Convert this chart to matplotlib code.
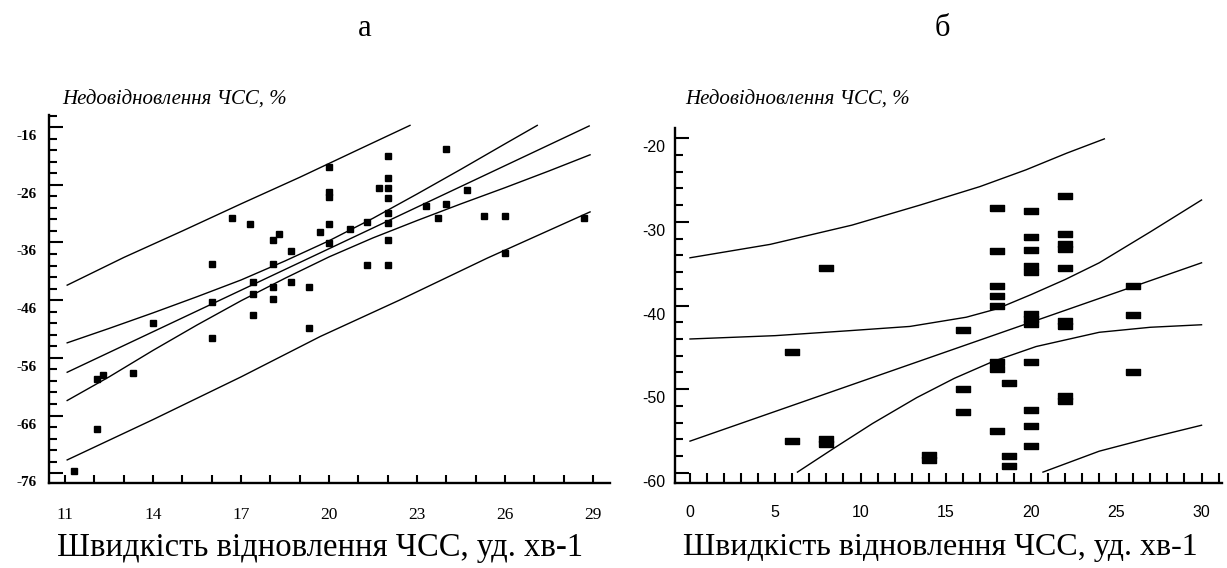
import matplotlib
matplotlib.use("Agg")
import matplotlib.pyplot as plt
import matplotlib.transforms as mtransforms
from matplotlib.ticker import MultipleLocator, FixedLocator

# ---------------- data: panel a ----------------
a_x = [16.7, 17.3, 18.1, 18.3, 18.7, 16.0, 18.1, 17.4, 18.1, 18.7, 19.3, 17.4, 16.0, 18.1, 17.4,
       19.7, 20.0, 22.0, 20.0, 20.0, 22.0, 21.7, 22.0, 22.0, 24.0, 24.7, 23.3, 24.0, 23.7, 22.0,
       22.0, 21.3, 20.7, 20.0, 20.0, 22.0, 21.3, 22.0, 25.3, 26.0, 26.0, 28.7, 14.0, 16.0, 19.3,
       12.1, 12.3, 13.3, 12.1, 11.3]
a_y = [-31.8, -32.8, -35.6, -34.5, -37.5, -39.7, -39.7, -42.9, -43.7, -42.9, -43.7, -44.9, -46.3, -45.8, -48.6,
       -34.2, -22.9, -21.0, -27.3, -28.1, -24.8, -26.6, -26.6, -28.3, -19.8, -26.9, -29.7, -29.3, -31.8, -30.9,
       -32.6, -32.5, -33.7, -32.8, -36.1, -35.6, -39.9, -39.9, -31.4, -31.4, -37.8, -31.8, -50.0, -52.6, -50.8,
       -59.7, -59.0, -58.6, -68.3, -75.6]

a_reg_x = [11.07, 28.87]
a_reg_y = [-58.5, -15.8]
a_uconf_x = [11.07, 12.5, 14.0, 15.5, 17.0, 18.5, 20.0, 21.5, 23.0, 24.5, 26.0, 27.1]
a_uconf_y = [-53.4, -50.9, -48.2, -45.4, -42.5, -39.2, -35.7, -31.8, -27.6, -23.3, -18.9, -15.7]
a_lconf_x = [11.07, 12.5, 14.0, 15.5, 17.0, 18.5, 20.0, 21.5, 23.0, 24.5, 26.0, 27.5, 28.9]
a_lconf_y = [-63.4, -59.3, -54.7, -50.3, -46.1, -42.2, -38.5, -35.2, -32.2, -29.3, -26.5, -23.6, -20.8]
a_upred_x = [11.07, 13.0, 15.0, 17.0, 19.0, 21.0, 22.76]
a_upred_y = [-43.4, -38.6, -34.0, -29.3, -24.7, -19.9, -15.7]
a_lpred_x = [11.07, 14.0, 17.0, 19.7, 22.4, 25.4, 28.9]
a_lpred_y = [-73.7, -66.7, -59.3, -52.3, -46.0, -38.7, -30.7]

a_xticks = [11, 14, 17, 20, 23, 26, 29]
a_yticks = [-76, -66, -56, -46, -36, -26, -16]

# ---------------- data: panel б ----------------
b_x = [6, 6, 8, 8, 8, 14, 14,
       16, 16, 16,
       18, 18, 18, 18, 18, 18, 18, 18,
       18.7, 18.7, 18.7,
       20, 20, 20, 20, 20, 20, 20, 20, 20, 20, 20, 20,
       22, 22, 22, 22, 22, 22, 22, 22, 22,
       26, 26, 26]
b_y = [-45.6, -56.2, -35.5, -56.0, -56.6, -57.9, -58.4,
       -42.9, -50.0, -52.7,
       -28.3, -33.5, -37.7, -38.9, -40.1, -46.7, -47.6, -55.0,
       -49.2, -58.0, -59.2,
       -28.7, -31.8, -33.4, -35.3, -36.0, -41.0, -42.2, -46.7, -52.5, -54.4, -56.8, -41.6,
       -26.9, -31.5, -32.6, -33.3, -35.5, -41.8, -42.4, -50.8, -51.4,
       -37.7, -41.1, -47.9]

b_reg_x = [0, 30]
b_reg_y = [-56.2, -34.9]
b_uconf_x = [0, 5, 9.4, 12.9, 16.2, 18.0, 20.0, 22.0, 24.0, 27.0, 30.0]
b_uconf_y = [-44.0, -43.6, -43.0, -42.5, -41.4, -40.4, -38.7, -36.9, -34.9, -31.2, -27.4]
b_lconf_x = [6.3, 8.4, 10.7, 13.3, 15.5, 17.75, 20.3, 24.0, 27.0, 30.0]
b_lconf_y = [-59.9, -57.1, -54.1, -51.0, -48.7, -46.7, -44.9, -43.2, -42.6, -42.3]
b_upred_x = [0, 4.7, 9.5, 13.5, 17.0, 19.7, 22.1, 24.3]
b_upred_y = [-34.3, -32.7, -30.4, -28.0, -25.8, -23.8, -21.8, -20.1]
b_lpred_x = [20.7, 24.0, 27.0, 30.0]
b_lpred_y = [-59.9, -57.4, -55.8, -54.3]

b_xticks = [0, 5, 10, 15, 20, 25, 30]
b_yticks = [-60, -50, -40, -30, -20]

ylabel_text = "Недовідновлення ЧСС, %"
xlabel_text = "Швидкість відновлення ЧСС, уд. хв-1"

# ---------------- figure ----------------
W, H = 1227, 568
fig = plt.figure(figsize=(W / 100, H / 100), dpi=100)
fig.patch.set_facecolor("white")

def px_axes(x0, y0, x1, y1):
    return fig.add_axes([x0 / W, 1 - y1 / H, (x1 - x0) / W, (y1 - y0) / H])

axa = px_axes(49, 115, 610, 483)
axb = px_axes(675, 128, 1222, 483)

def style(ax, lw=1.7):
    for s in ("top", "right"):
        ax.spines[s].set_visible(False)
    for s in ("left", "bottom"):
        ax.spines[s].set_linewidth(lw)
        ax.spines[s].set_color("black")
    ax.set_facecolor("white")

line_kw = dict(color="black", lw=1.0)

# ---- panel a ----
style(axa)
axa.set_xlim(10.45, 29.58)
axa.set_ylim(-77.7, -13.9)
axa.plot(a_upred_x, a_upred_y, **line_kw)
axa.plot(a_uconf_x, a_uconf_y, **line_kw)
axa.plot(a_reg_x, a_reg_y, **line_kw)
axa.plot(a_lconf_x, a_lconf_y, **line_kw)
axa.plot(a_lpred_x, a_lpred_y, **line_kw)
axa.plot(a_x, a_y, linestyle="none", marker="s", markersize=5, color="black")

axa.xaxis.set_major_locator(FixedLocator(a_xticks))
axa.xaxis.set_minor_locator(MultipleLocator(1))
axa.yaxis.set_major_locator(FixedLocator(a_yticks))
axa.yaxis.set_minor_locator(FixedLocator(list(range(-76, -13, 2))))
axa.set_xticklabels([str(v) for v in a_xticks], fontfamily="Liberation Serif", fontsize=12.5)
axa.set_yticklabels([str(v) for v in a_yticks], fontfamily="Liberation Serif", fontsize=11,
                    fontweight="bold")
axa.tick_params(axis="x", which="both", direction="in", length=6, width=1.5, pad=17)
axa.tick_params(axis="y", which="major", direction="in", length=10, width=1.5, pad=9)
axa.tick_params(axis="y", which="minor", direction="in", length=6, width=1.5)

# ---- panel б ----
style(axb)
axb.set_xlim(-0.88, 31.2)
axb.set_ylim(-61.2, -18.8)
axb.plot(b_upred_x, b_upred_y, **line_kw)
axb.plot(b_uconf_x, b_uconf_y, **line_kw)
axb.plot(b_reg_x, b_reg_y, **line_kw)
axb.plot(b_lconf_x, b_lconf_y, **line_kw)
axb.plot(b_lpred_x, b_lpred_y, **line_kw)
rect_marker = [(-1, -0.5), (1, -0.5), (1, 0.5), (-1, 0.5), (-1, -0.5)]
axb.plot(b_x, b_y, linestyle="none", marker=rect_marker, markersize=10, color="black")

axb.xaxis.set_major_locator(FixedLocator(b_xticks))
axb.xaxis.set_minor_locator(MultipleLocator(1))
axb.yaxis.set_major_locator(FixedLocator(b_yticks))
axb.yaxis.set_minor_locator(FixedLocator(list(range(-60, -18, 2))))
axb.set_xticklabels([str(v) for v in b_xticks], fontfamily="Liberation Sans", fontsize=11.5)
axb.set_yticklabels([str(v) for v in b_yticks], fontfamily="Liberation Sans", fontsize=11.5)
axb.tick_params(axis="x", which="both", direction="in", length=7, width=1.5, pad=16)
axb.tick_params(axis="y", which="major", direction="in", length=10, width=1.5, pad=7)
axb.tick_params(axis="y", which="minor", direction="in", length=6, width=1.5)

# y tick labels sit slightly below their ticks in the reference
off = mtransforms.ScaledTranslation(0, -8 / 100, fig.dpi_scale_trans)
for ax in (axa, axb):
    for lab in ax.get_yticklabels():
        lab.set_transform(lab.get_transform() + off)

# ---- texts ----
def ftxt(x, y, s, **kw):
    fig.text(x / W, 1 - y / H, s, **kw)

ftxt(365, 28, "а", fontfamily="Liberation Serif", fontsize=22, ha="center", va="center")
ftxt(942, 28, "б", fontfamily="Liberation Serif", fontsize=22, ha="center", va="center")

ftxt(62, 100, ylabel_text, fontfamily="Liberation Serif", fontstyle="italic", fontsize=15,
     ha="left", va="center")
ftxt(685, 100, ylabel_text, fontfamily="Liberation Serif", fontstyle="italic", fontsize=15,
     ha="left", va="center")

ftxt(57, 548, xlabel_text, fontfamily="Liberation Serif", fontsize=23.5, ha="left", va="center")
ftxt(683, 548, xlabel_text, fontfamily="Liberation Serif", fontsize=23, ha="left", va="center")

fig.savefig("out.png", dpi=100, facecolor="white")
